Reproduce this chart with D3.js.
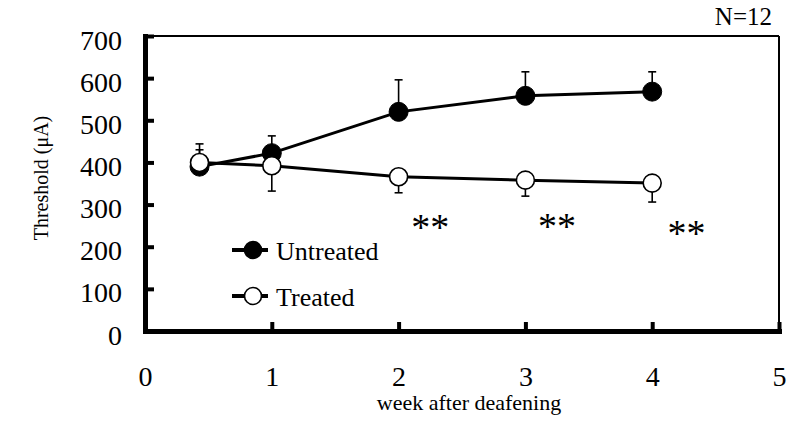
<!DOCTYPE html>
<html>
<head>
<meta charset="utf-8">
<script src="https://cdn.jsdelivr.net/npm/d3@7"></script>
<style>
  html, body { margin: 0; padding: 0; background: #fff; }
  svg { display: block; }
  text { font-family: "Liberation Serif", "Times New Roman", serif; fill: #000; }
</style>
</head>
<body>
<svg id="chart" width="800" height="422"></svg>
<script>
// ---- data ----
const weeks = [0.43, 1, 2, 3, 4];
const untreated = [390, 422, 520, 558, 568];
const untreatedErrEnd = [430, 463, 596, 615, 615];
const treated = [400, 392, 366, 358, 351];
const treatedErrEnd = [444, 332, 328, 320, 306];
const xTicks = [0, 1, 2, 3, 4, 5];
const yTicks = [0, 100, 200, 300, 400, 500, 600, 700];
const seriesNames = ["Untreated", "Treated"];
const stars = [
  { week: 2.25, value: 261, label: "**" },
  { week: 3.25, value: 263, label: "**" },
  { week: 4.27, value: 247, label: "**" }
];
const nLabel = "N=12";
const xTitle = "week after deafening";
const yTitle = "Threshold (\u03BCA)";

const SERIF = '"Liberation Serif", "Times New Roman", serif';

// ---- layout ----
const svg = d3.select("#chart");
const x = d3.scaleLinear().domain([0, 5]).range([145, 779]);
const y = d3.scaleLinear().domain([0, 700]).range([331, 36]);

// frame (top & right thin lines)
svg.append("line").attr("x1", x(0)).attr("x2", x(5)).attr("y1", y(700)).attr("y2", y(700))
  .attr("stroke", "#000").attr("stroke-width", 2);
svg.append("line").attr("x1", x(5)).attr("x2", x(5)).attr("y1", y(700)).attr("y2", y(0))
  .attr("stroke", "#000").attr("stroke-width", 2);

// y axis
const yAxis = svg.append("g").attr("transform", `translate(${x(0)},0)`)
  .call(d3.axisLeft(y).tickValues(yTicks).tickFormat(d3.format("d"))
    .tickSizeInner(-9).tickSizeOuter(0).tickPadding(23));
yAxis.attr("font-family", SERIF).attr("font-size", 28);
yAxis.select(".domain").attr("stroke-width", 5).attr("stroke-linecap", "square");
yAxis.selectAll(".tick line").attr("stroke-width", 4);
yAxis.selectAll(".tick text").attr("dy", 13);

// x axis
const xAxis = svg.append("g").attr("transform", `translate(0,${y(0)})`)
  .call(d3.axisBottom(x).tickValues(xTicks).tickFormat(d3.format("d"))
    .tickSizeInner(-9).tickSizeOuter(0).tickPadding(0));
xAxis.attr("font-family", SERIF).attr("font-size", 28);
xAxis.select(".domain").attr("stroke-width", 5).attr("stroke-linecap", "square");
xAxis.selectAll(".tick line").attr("stroke-width", 4);
xAxis.selectAll(".tick text").attr("y", 55).attr("dy", 0);
svg.selectAll(".tick text").attr("fill", "#000");

// titles
svg.append("text").attr("x", 469).attr("y", 410).attr("text-anchor", "middle")
  .attr("font-size", 22).text(xTitle);
svg.append("text").attr("transform", "translate(48,178) rotate(-90)").attr("text-anchor", "middle")
  .attr("font-size", 20).text(yTitle);
svg.append("text").attr("x", 772).attr("y", 25).attr("text-anchor", "end")
  .attr("font-size", 25).text(nLabel);

// lines
const line = d3.line().x(d => x(d[0])).y(d => y(d[1]));
const uPts = weeks.map((w, i) => [w, untreated[i]]);
const tPts = weeks.map((w, i) => [w, treated[i]]);
svg.append("path").attr("d", line(uPts)).attr("fill", "none").attr("stroke", "#000").attr("stroke-width", 3);
svg.append("path").attr("d", line(tPts)).attr("fill", "none").attr("stroke", "#000").attr("stroke-width", 3);

// error bars
function errBars(vals, ends) {
  const g = svg.append("g").attr("stroke", "#000").attr("stroke-width", 1.6);
  weeks.forEach((w, i) => {
    g.append("line").attr("x1", x(w)).attr("x2", x(w)).attr("y1", y(vals[i])).attr("y2", y(ends[i]));
    g.append("line").attr("x1", x(w) - 4).attr("x2", x(w) + 4).attr("y1", y(ends[i])).attr("y2", y(ends[i]));
  });
}
errBars(untreated, untreatedErrEnd);
errBars(treated, treatedErrEnd);

// markers
svg.append("g").selectAll("circle").data(uPts).join("circle")
  .attr("cx", d => x(d[0])).attr("cy", d => y(d[1])).attr("r", 9.5)
  .attr("fill", "#000").attr("stroke", "#000").attr("stroke-width", 1);
svg.append("g").selectAll("circle").data(tPts).join("circle")
  .attr("cx", d => x(d[0])).attr("cy", d => y(d[1])).attr("r", 9)
  .attr("fill", "#fff").attr("stroke", "#000").attr("stroke-width", 1.6);

// significance stars
svg.append("g").selectAll("text").data(stars).join("text")
  .attr("x", d => x(d.week)).attr("y", d => y(d.value)).attr("dy", "0.5em")
  .attr("text-anchor", "middle").attr("font-size", 38).text(d => d.label);

// legend
const legendRows = [250, 296];
seriesNames.forEach((name, i) => {
  const g = svg.append("g").attr("transform", `translate(0,${legendRows[i]})`);
  g.append("line").attr("x1", 232).attr("x2", 268).attr("y1", 0).attr("y2", 0)
    .attr("stroke", "#000").attr("stroke-width", 4);
  g.append("circle").attr("cx", 253).attr("cy", 0).attr("r", 8.5)
    .attr("fill", i === 0 ? "#000" : "#fff").attr("stroke", "#000").attr("stroke-width", 1.6);
  g.append("text").attr("x", 276).attr("y", 10).attr("font-size", 26).text(name);
});
</script>
</body>
</html>
